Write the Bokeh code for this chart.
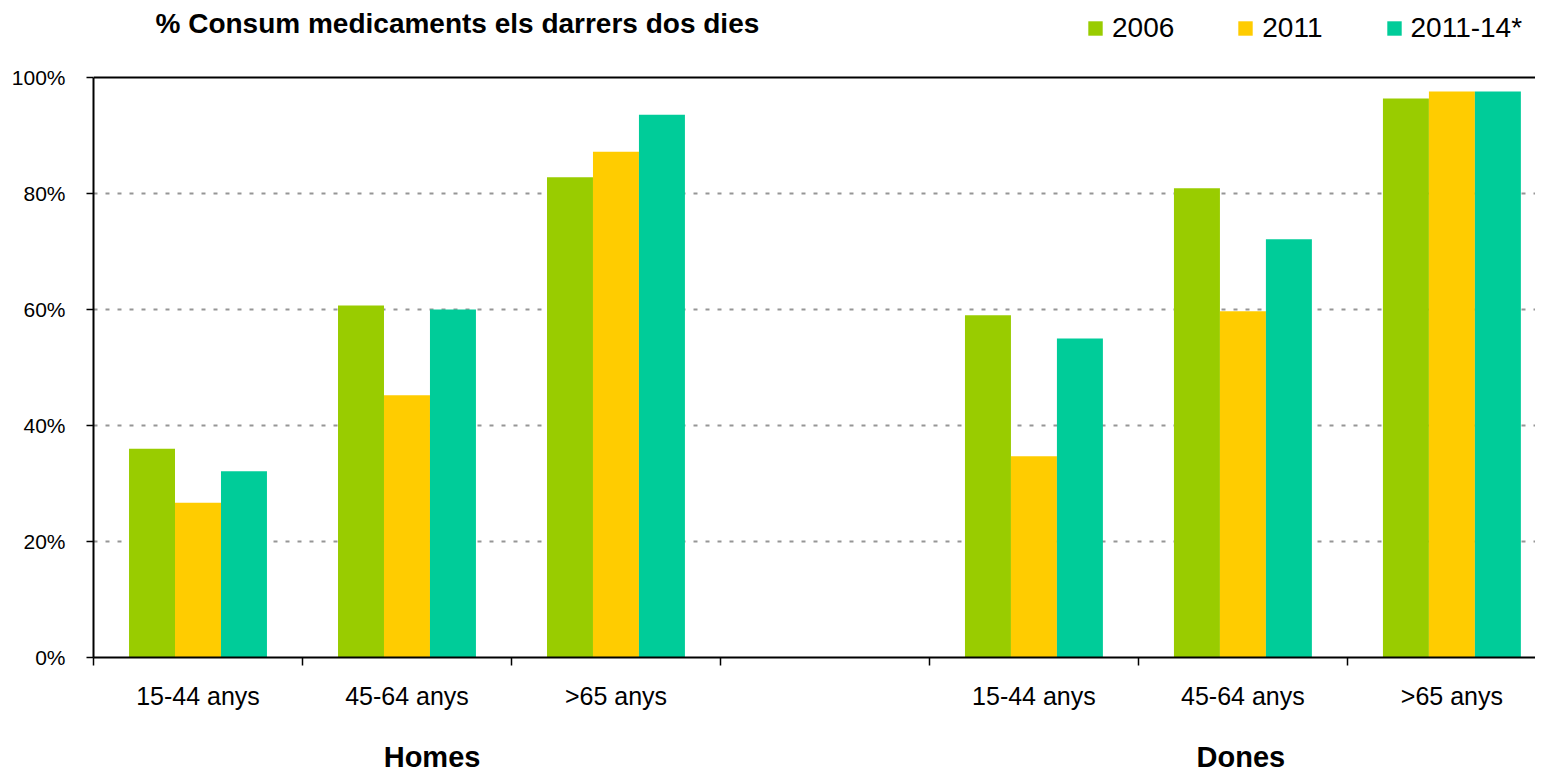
from bokeh.plotting import figure
from bokeh.models import (ColumnDataSource, Range1d, FixedTicker, PrintfTickFormatter,
                          Span, LinearAxis, Legend, LegendItem, Label)
from bokeh.embed import file_html
from bokeh.resources import INLINE

# ---- data ----
age_groups = ["15-44 anys", "45-64 anys", ">65 anys"]
sexes = ["Homes", "Dones"]
series_names = ["2006", "2011", "2011-14*"]
v2006 = [36.0, 60.7, 82.8, 59.0, 80.9, 96.4]
v2011 = [26.7, 45.2, 87.2, 34.7, 59.7, 97.6]
v2011_14 = [32.1, 60.0, 93.6, 55.0, 72.1, 97.6]
y_ticks = [0, 20, 40, 60, 80, 100]
colors = ["#99CC00", "#FFCC00", "#00CC99"]
title_text = "% Consum medicaments els darrers dos dies"

FONT = "Liberation Sans"

# slot index for each bar group: Homes 0..2, empty slot 3, Dones 4..6
slots = [0, 1, 2, 4, 5, 6]
centers = [s + 0.5 for s in slots]
labels = age_groups + age_groups
boundaries = list(range(0, 8))
# positions of the sex labels along the category axis (as in the reference)
sex_label_pos = [1.62, 5.49]

# frame spans from the top of the figure; the value axis itself stops at 100 %
p = figure(width=1535, height=775, output_backend="svg", toolbar_location=None,
           x_range=Range1d(0, 6.90), y_range=Range1d(0, 113.28),
           min_border_left=93, min_border_right=0, min_border_top=0, min_border_bottom=118)
p.outline_line_color = None
p.xgrid.visible = False

bw = 0.22
renderers = []
for i, (vals, col) in enumerate(zip([v2006, v2011, v2011_14], colors)):
    src = ColumnDataSource(dict(x=[c + (i - 1) * bw for c in centers], top=vals))
    r = p.vbar(x="x", top="top", width=bw, bottom=0, source=src,
               fill_color=col, line_color=None)
    renderers.append(r)

# y axis
p.yaxis.bounds = (0, 100)
p.yaxis.ticker = FixedTicker(ticks=y_ticks)
p.yaxis.formatter = PrintfTickFormatter(format="%d%%")
p.yaxis.major_label_text_font = FONT
p.yaxis.major_label_text_font_size = "21px"
p.yaxis.major_label_text_color = "black"
p.yaxis.major_label_standoff = 21
p.yaxis.major_tick_out = 7
p.yaxis.major_tick_in = 0
p.yaxis.minor_tick_line_color = None
p.yaxis.axis_line_width = 2
p.yaxis.axis_line_color = "black"
p.yaxis.major_tick_line_color = "black"
p.yaxis.major_tick_line_width = 1.5

# y grid
p.ygrid.ticker = FixedTicker(ticks=[20, 40, 60, 80])
p.ygrid.grid_line_color = "#969696"
p.ygrid.grid_line_dash = "4 8"
p.ygrid.grid_line_width = 2

p.add_layout(Span(location=100, dimension="width", line_color="black", line_width=2))

# x axis: labels at group centres, ticks at boundaries (minor)
xa = p.xaxis[0]
xa.ticker = FixedTicker(ticks=centers, minor_ticks=boundaries)
xa.major_label_overrides = {c: l for c, l in zip(centers, labels)}
xa.major_label_text_font = FONT
xa.major_label_text_font_size = "25px"
xa.major_label_text_color = "black"
xa.major_label_standoff = 16
xa.major_tick_out = 0
xa.major_tick_in = 0
xa.major_tick_line_color = None
xa.minor_tick_out = 8
xa.minor_tick_in = 0
xa.minor_tick_line_color = "black"
xa.minor_tick_line_width = 1.5
xa.axis_line_width = 2
xa.axis_line_color = "black"

# second axis for Homes / Dones
xa2 = LinearAxis(ticker=FixedTicker(ticks=sex_label_pos, minor_ticks=[]),
                 major_label_overrides={pos: s for pos, s in zip(sex_label_pos, sexes)},
                 major_label_text_font=FONT, major_label_text_font_size="29px",
                 major_label_text_font_style="bold", major_label_text_color="black",
                 major_label_standoff=28, major_tick_out=0, major_tick_in=0,
                 major_tick_line_color=None, minor_tick_line_color=None,
                 axis_line_color=None)
p.add_layout(xa2, "below")

# title (inside the tall frame, above the 100 % line)
p.add_layout(Label(x=62, y=634, x_units="screen", y_units="screen", text=title_text,
                   text_font=FONT, text_font_size="28px", text_font_style="bold",
                   text_color="black", text_baseline="middle", text_align="left"))

legend = Legend(items=[LegendItem(label=n, renderers=[r]) for n, r in zip(series_names, renderers)],
                orientation="horizontal", location=(993, 613),
                glyph_width=18, glyph_height=18, label_standoff=8, spacing=62,
                padding=0, margin=0, border_line_color=None, background_fill_alpha=0,
                label_text_font=FONT, label_text_font_size="28px", label_text_color="black")
p.add_layout(legend)

open("out.html", "w").write(file_html(p, INLINE))
